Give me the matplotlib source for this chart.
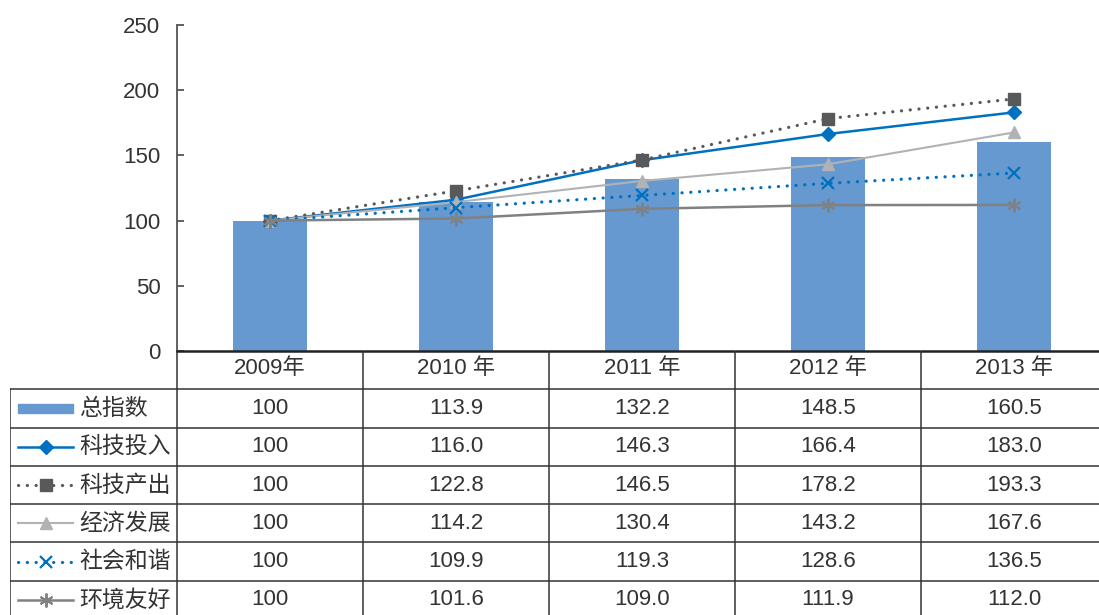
import matplotlib.pyplot as plt
from matplotlib.lines import Line2D
from matplotlib.patches import Rectangle

plt.rcParams['font.family'] = ['Liberation Sans', 'Noto Sans CJK SC', 'DejaVu Sans']

years = ["2009年", "2010 年", "2011 年", "2012 年", "2013 年"]
total_index = [100, 113.9, 132.2, 148.5, 160.5]
tech_input = [100, 116.0, 146.3, 166.4, 183.0]
tech_output = [100, 122.8, 146.5, 178.2, 193.3]
economy = [100, 114.2, 130.4, 143.2, 167.6]
society = [100, 109.9, 119.3, 128.6, 136.5]
environment = [100, 101.6, 109.0, 111.9, 112.0]

bar_name = "总指数"
bar_color = "#6699D0"
dots = (0, (0.05, 2.7))
line_series = [
    ("科技投入", tech_input, dict(color="#0070C0", ls="-", lw=1.8, marker="D", ms=7.5)),
    ("科技产出", tech_output, dict(color="#58595B", ls=dots, lw=2.3, marker="s", ms=8.5,
                                 dash_capstyle="round")),
    ("经济发展", economy, dict(color="#B1B2B5", ls="-", lw=1.5, marker="^", ms=9)),
    ("社会和谐", society, dict(color="#0070C0", ls=dots, lw=2.3, marker="x", ms=9, mew=1.6,
                               dash_capstyle="round")),
    ("环境友好", environment, dict(color="#808183", ls="-", lw=1.8, marker=(6, 2, 0), ms=10, mew=1.4)),
]

W, H = 1099, 615
text_color = "#333333"
num_size = 16


def px(x0, y0, x1, y1):
    return [x0 / W, 1 - y1 / H, (x1 - x0) / W, (y1 - y0) / H]


fig = plt.figure(figsize=(W / 100, H / 100), dpi=100)

# main chart
ax = fig.add_axes(px(177, 25, 1107, 351))
x = list(range(len(years)))
ax.bar(x, total_index, width=0.4, color=bar_color, zorder=1)
for name, vals, style in line_series:
    ax.plot(x, vals, zorder=3, **style)
ax.set_xlim(-0.5, 4.5)
ax.set_ylim(0, 250)
ax.set_yticks([0, 50, 100, 150, 200, 250])
ax.set_xticks([])
ax.tick_params(axis="y", direction="in", length=5, width=1.3, color="#555555",
               labelsize=num_size, labelcolor=text_color, pad=12)
for s in ["top", "right"]:
    ax.spines[s].set_visible(False)
ax.spines["left"].set_color("#555555")
ax.spines["left"].set_linewidth(1.3)
ax.spines["bottom"].set_color("#222222")
ax.spines["bottom"].set_linewidth(1.8)

# data table under the chart
label_w = 167 / 186
tab = fig.add_axes(px(10, 351, 1107, 619))
tab.set_xlim(-0.5 - label_w, 4.5)
tab.set_ylim(7, 0)
tab.axis("off")
grid_kw = dict(color="#333333", lw=1.1)
left = -0.5 - label_w
for r in range(1, 8):
    tab.plot([left, 4.5], [r, r], **grid_kw)
tab.plot([left, left], [1, 7], **grid_kw)
for c in range(5):
    tab.plot([c - 0.5, c - 0.5], [0, 7], **grid_kw)

for i, yr in enumerate(years):
    tab.text(i, 0.45, yr, ha="center", va="center", fontsize=num_size, color=text_color)

rows = [(bar_name, total_index, None)] + [(n, v, s) for n, v, s in line_series]
key_x0, key_x1 = left + 8 / 186, left + 63 / 186
for r, (name, vals, style) in enumerate(rows, start=1):
    yc = r + 0.5
    if style is None:
        tab.add_patch(Rectangle((key_x0, yc - 0.11), key_x1 - key_x0, 0.22, color=bar_color))
    else:
        tab.add_line(Line2D([key_x0, (key_x0 + key_x1) / 2, key_x1], [yc, yc, yc],
                            markevery=[1], **style))
    tab.text(left + 69 / 186, yc, name, ha="left", va="center", fontsize=16.5,
             color=text_color, family=["Noto Sans CJK SC", "DejaVu Sans"])
    for i, v in enumerate(vals):
        s = "100" if v == 100 else f"{v:.1f}"
        tab.text(i, yc, s, ha="center", va="center", fontsize=num_size, color=text_color)

fig.savefig("out.png", dpi=100)
